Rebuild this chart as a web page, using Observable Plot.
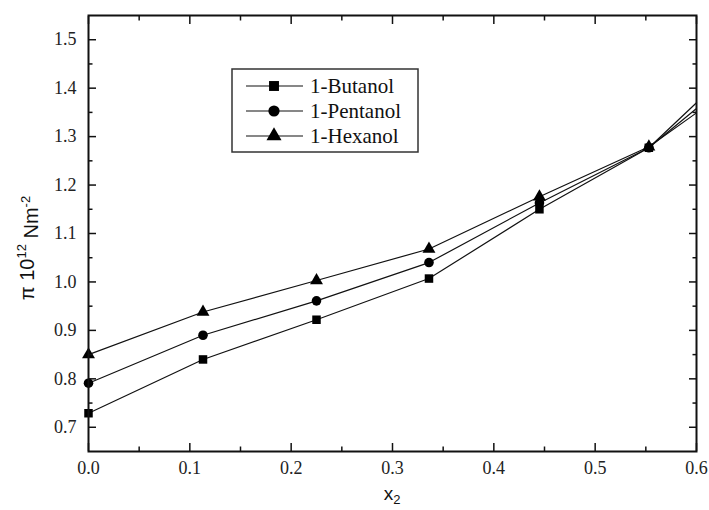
<!DOCTYPE html>
<html><head><meta charset="utf-8">
<script src="https://cdn.jsdelivr.net/npm/d3@7"></script>
<script src="https://cdn.jsdelivr.net/npm/@observablehq/plot@0.6"></script>
<style>body{margin:0;background:#fff}</style>
</head><body><div id="chart"></div>
<script>
const xValues = [0, 0.113, 0.225, 0.336, 0.445, 0.553, 0.6];
const butanol = [0.729, 0.840, 0.922, 1.007, 1.150, 1.277, 1.370];
const pentanol = [0.791, 0.890, 0.961, 1.040, 1.163, 1.277, 1.358];
const hexanol = [0.850, 0.938, 1.003, 1.068, 1.176, 1.279, 1.349];
const markerShown = [true, true, true, true, true, true, false];
const seriesNames = ["1-Butanol", "1-Pentanol", "1-Hexanol"];
const seriesSymbols = ["square", "circle", "triangle"];
const xMajor = [0, 0.1, 0.2, 0.3, 0.4, 0.5, 0.6];
const xMinor = [0.05, 0.15, 0.25, 0.35, 0.45, 0.55];
const yMajor = [0.7, 0.8, 0.9, 1.0, 1.1, 1.2, 1.3, 1.4, 1.5];
const yMinor = [0.75, 0.85, 0.95, 1.05, 1.15, 1.25, 1.35, 1.45];

const seriesValues = [butanol, pentanol, hexanol];
const rows = [];
seriesNames.forEach((name, s) => {
  xValues.forEach((x, i) => rows.push({series: name, x, y: seriesValues[s][i], show: markerShown[i]}));
});

const W = 709, H = 510;
const mL = 88, mR = 13, mT = 15, mB = 59;
const serif = "'Liberation Serif', 'Times New Roman', serif";
const sans = "'Liberation Sans', Arial, sans-serif";

const plot = Plot.plot({
  width: W, height: H,
  marginLeft: mL, marginRight: mR, marginTop: mT, marginBottom: mB,
  style: {fontFamily: serif, fontSize: "18px", color: "#111", background: "#fff", overflow: "visible"},
  x: {domain: [0, 0.6], axis: null},
  y: {domain: [0.65, 1.55], axis: null},
  symbol: {domain: seriesNames, range: seriesSymbols},
  marks: [
    Plot.line(rows, {x: "x", y: "y", z: "series", stroke: "#111", strokeWidth: 1.2}),
    Plot.dot(rows.filter(d => d.show), {x: "x", y: "y", symbol: "series", fill: "#000", stroke: "none", r: 4.8}),
    Plot.axisX(xMajor, {anchor: "bottom", tickSize: 8, dy: -8, fill: "none", label: null, strokeWidth: 1.5}),
    Plot.axisX(xMinor, {anchor: "bottom", tickSize: 4.5, dy: -4.5, fill: "none", label: null, strokeWidth: 1.5}),
    Plot.axisX(xMajor, {anchor: "top", tickSize: 8, dy: 8, fill: "none", label: null, strokeWidth: 1.5}),
    Plot.axisX(xMinor, {anchor: "top", tickSize: 4.5, dy: 4.5, fill: "none", label: null, strokeWidth: 1.5}),
    Plot.axisY(yMajor, {anchor: "left", tickSize: 8, dx: 8, fill: "none", label: null, strokeWidth: 1.5}),
    Plot.axisY(yMinor, {anchor: "left", tickSize: 4.5, dx: 4.5, fill: "none", label: null, strokeWidth: 1.5}),
    Plot.axisY(yMajor, {anchor: "right", tickSize: 8, dx: -8, fill: "none", label: null, strokeWidth: 1.5}),
    Plot.axisY(yMinor, {anchor: "right", tickSize: 4.5, dx: -4.5, fill: "none", label: null, strokeWidth: 1.5}),
    Plot.axisX(xMajor, {anchor: "bottom", tickSize: 0, tickPadding: 10, tickFormat: d3.format(".1f"), label: null, fill: "#222"}),
    Plot.axisY(yMajor, {anchor: "left", tickSize: 0, tickPadding: 12, tickFormat: d3.format(".1f"), label: null, fill: "#222"}),
    Plot.frame({stroke: "#111", strokeWidth: 2})
  ]
});
document.getElementById("chart").appendChild(plot);

const svg = d3.select(plot);
// y-axis title
const yl = svg.append("text")
  .attr("transform", "translate(34,248) rotate(-90)")
  .attr("text-anchor", "middle")
  .style("font-family", sans).style("font-size", "20px").attr("fill", "#111");
yl.append("tspan").text("π 10");
yl.append("tspan").text("12").attr("dy", "-0.6em").style("font-size", "13px");
yl.append("tspan").text(" Nm").attr("dy", "0.6em");
yl.append("tspan").text("-2").attr("dy", "-0.6em").style("font-size", "13px");

// x-axis title
const xl = svg.append("text")
  .attr("x", 392).attr("y", 500)
  .attr("text-anchor", "middle")
  .style("font-family", sans).style("font-size", "19px").attr("fill", "#111");
xl.append("tspan").text("x");
xl.append("tspan").text("2").attr("dy", "0.3em").style("font-size", "13px");

// legend
const lg = svg.append("g").attr("transform", "translate(232,69)");
lg.append("rect").attr("width", 186).attr("height", 83).attr("fill", "#fff").attr("stroke", "#333").attr("stroke-width", 1.5);
const symMap = {square: d3.symbolSquare, circle: d3.symbolCircle, triangle: d3.symbolTriangle};
seriesNames.forEach((name, i) => {
  const cy = 17 + i * 25;
  lg.append("line").attr("x1", 14).attr("x2", 71).attr("y1", cy).attr("y2", cy).attr("stroke", "#111").attr("stroke-width", 1.2);
  lg.append("path").attr("transform", `translate(42,${cy})`).attr("d", d3.symbol(symMap[seriesSymbols[i]], Math.PI * 5.6 * 5.6)()).attr("fill", "#000");
  lg.append("text").attr("x", 78).attr("y", cy).attr("dy", "0.35em").attr("text-anchor", "start").text(name)
    .style("font-family", serif).style("font-size", "21px").attr("fill", "#111");
});
</script>
</body></html>
